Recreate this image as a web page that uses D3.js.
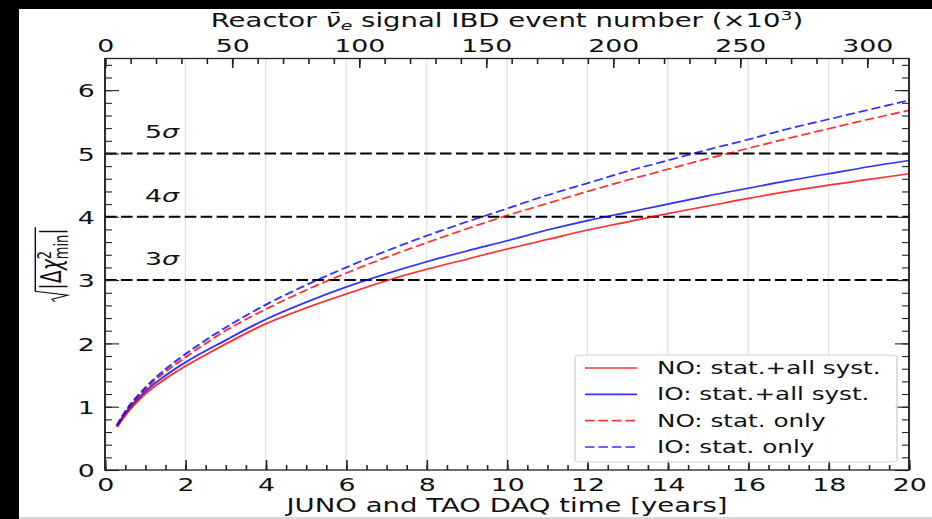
<!DOCTYPE html>
<html><head><meta charset="utf-8">
<script src="https://cdn.jsdelivr.net/npm/d3@7"></script>
<style>
body{margin:0;background:#000;}
svg{display:block;}
text{font-family:"DejaVu Sans",sans-serif;fill:#111;}
</style>
</head><body>
<svg id="c" width="932" height="519"></svg>
<script>
// ---- data ----
const years  = [0.3,0.5,1,1.5,2,3,4,5,6,7,8,9,10,11,12,13,14,15,16,17,18,19,20];
const noSyst = [0.68,0.86,1.20,1.44,1.64,1.99,2.31,2.56,2.78,2.99,3.17,3.33,3.49,3.64,3.79,3.92,4.05,4.17,4.29,4.40,4.50,4.59,4.68];
const ioSyst = [0.70,0.89,1.24,1.49,1.70,2.05,2.38,2.65,2.89,3.10,3.29,3.46,3.62,3.79,3.94,4.07,4.20,4.33,4.45,4.57,4.68,4.79,4.89];
const noStat = [0.69,0.90,1.27,1.55,1.78,2.20,2.54,2.84,3.11,3.36,3.59,3.81,4.02,4.21,4.40,4.58,4.75,4.92,5.08,5.24,5.39,5.54,5.68];
const ioStat = [0.71,0.92,1.30,1.59,1.83,2.25,2.61,2.92,3.20,3.46,3.70,3.92,4.13,4.34,4.53,4.72,4.89,5.06,5.22,5.39,5.54,5.69,5.84];
const seriesNames = ["NO: stat.+all syst.","IO: stat.+all syst.","NO: stat. only","IO: stat. only"];
const xTickVals = [0,2,4,6,8,10,12,14,16,18,20];
const yTickVals = [0,1,2,3,4,5,6];
const topTickVals = [0,50,100,150,200,250,300];
const sigmaLevels = [3,4,5];
const xDomain = [0,20];
const yDomain = [0,6.5];
const eventDomain = [0,316.5];

// ---- layout ----
const SX = 1.45;               // horizontal stretch of the reference
const L = 105/SX, R = 909/SX, T = 58.5, B = 470;
const svg = d3.select('#c');
svg.append('rect').attr('width',932).attr('height',519).attr('fill','#000');
svg.append('rect').attr('x',19).attr('y',9).attr('width',913).attr('height',508).attr('fill','#fff');
svg.append('rect').attr('x',19).attr('y',517).attr('width',913).attr('height',2).attr('fill','#d8d8d8');
const g = svg.append('g').attr('transform',`scale(${SX},1)`);

const x = d3.scaleLinear(xDomain,[L,R]);
const y = d3.scaleLinear(yDomain,[B,T]);
const xTop = d3.scaleLinear(eventDomain,[L,R]);

// grid
g.append('g').selectAll('line').data(xTickVals.filter(v=>v>0&&v<20)).join('line')
  .attr('x1',d=>x(d)).attr('x2',d=>x(d)).attr('y1',B).attr('y2',T)
  .attr('stroke','#e4e4e4').attr('stroke-width',1);

// sigma lines
g.append('g').selectAll('line').data(sigmaLevels).join('line')
  .attr('x1',L).attr('x2',R).attr('y1',d=>y(d)).attr('y2',d=>y(d))
  .attr('stroke','#000').attr('stroke-width',2).attr('stroke-dasharray','8,3');
const sl = g.append('g').selectAll('text').data(sigmaLevels).join('text')
  .attr('x',100).attr('y',d=>y(d)-15).attr('font-size',18.5);
sl.append('tspan').text(d=>d);
sl.append('tspan').attr('font-style','italic').text('σ');

// curves
const series = [
  {v:noSyst,c:'rgba(255,0,0,0.8)',dash:null},
  {v:ioSyst,c:'rgba(0,0,255,0.8)',dash:null},
  {v:noStat,c:'rgba(255,0,0,0.8)',dash:'6.5,2.8'},
  {v:ioStat,c:'rgba(0,0,255,0.8)',dash:'6.5,2.8'}
];
const line = d3.line().x(d=>x(d[0])).y(d=>y(d[1])).curve(d3.curveMonotoneX);
g.append('g').selectAll('path').data(series).join('path')
  .attr('d',s=>line(years.map((t,i)=>[t,s.v[i]])))
  .attr('fill','none').attr('stroke',s=>s.c).attr('stroke-width',1.7)
  .attr('stroke-dasharray',s=>s.dash);

// axes
const tickCol = '#222';
function styleAxis(sel){
  sel.select('.domain').remove();
  sel.selectAll('line').attr('stroke',tickCol).attr('stroke-width',1.1);
  sel.selectAll('text').attr('font-family','DejaVu Sans').attr('font-size',18.5).attr('fill','#111');
}
const minorX = d3.range(0,20.001,0.5);
const minorY = d3.range(0,6.501,0.2);
const minorTop = d3.range(0,316,10);
g.append('g').attr('transform',`translate(0,${B})`)
  .call(d3.axisBottom(x).tickValues(minorX).tickSize(-5).tickFormat('')).call(styleAxis);
g.append('g').attr('transform',`translate(0,${B})`)
  .call(d3.axisBottom(x).tickValues(xTickVals).tickSize(-10).tickFormat(d3.format('d')))
  .call(styleAxis).call(s=>s.selectAll('text').attr('y',21).attr('dy',null));
g.append('g').attr('transform',`translate(${L},0)`)
  .call(d3.axisLeft(y).tickValues(minorY).tickSize(-4.8).tickFormat('')).call(styleAxis);
g.append('g').attr('transform',`translate(${L},0)`)
  .call(d3.axisLeft(y).tickValues(yTickVals).tickSize(-9.7).tickPadding(7).tickFormat(d3.format('d')))
  .call(styleAxis).call(s=>s.selectAll('text').attr('dy','0.36em'));
g.append('g').attr('transform',`translate(${R},0)`)
  .call(d3.axisRight(y).tickValues(minorY).tickSize(-4.8).tickFormat('')).call(styleAxis);
g.append('g').attr('transform',`translate(${R},0)`)
  .call(d3.axisRight(y).tickValues(yTickVals).tickSize(-9.7).tickFormat('')).call(styleAxis);
g.append('g').attr('transform',`translate(0,${T})`)
  .call(d3.axisTop(xTop).tickValues(minorTop).tickSize(-5.5).tickFormat('')).call(styleAxis);
g.append('g').attr('transform',`translate(0,${T})`)
  .call(d3.axisTop(xTop).tickValues(topTickVals).tickSize(-9.5).tickFormat(d3.format('d')))
  .call(styleAxis).call(s=>s.selectAll('text').attr('y',-7).attr('dy',null));

// frame
g.append('rect').attr('x',L).attr('y',T).attr('width',R-L).attr('height',B-T)
  .attr('fill','none').attr('stroke',tickCol).attr('stroke-width',1.3);

// legend
const lg = g.append('g');
lg.append('rect').attr('x',575/SX).attr('y',355).attr('width',(897-575)/SX).attr('height',107)
  .attr('rx',3).attr('fill','rgba(255,255,255,0.85)').attr('stroke','#d4d4d4').attr('stroke-width',1);
const rowsY = [368,394.3,420.6,447];
const le = lg.selectAll('g.e').data(series).join('g').attr('class','e');
le.append('line').attr('x1',585/SX).attr('x2',637/SX).attr('y1',(d,i)=>rowsY[i]).attr('y2',(d,i)=>rowsY[i])
  .attr('stroke',d=>d.c).attr('stroke-width',1.7).attr('stroke-dasharray',d=>d.dash);
le.append('text').attr('x',657/SX).attr('y',(d,i)=>rowsY[i]+6).attr('font-size',17)
  .text((d,i)=>seriesNames[i]);

// x label
g.append('text').attr('x',507/SX).attr('y',512).attr('text-anchor','middle').attr('font-size',19)
  .text('JUNO and TAO DAQ time [years]');

// top label
const tt = g.append('text').attr('x',507/SX).attr('y',27).attr('text-anchor','middle').attr('font-size',19);
tt.append('tspan').text('Reactor ');
tt.append('tspan').attr('font-style','italic').text('ν\u0304');
tt.append('tspan').attr('font-style','italic').attr('font-size',13).attr('dy',3.5).text('e');
tt.append('tspan').attr('dy',-3.5).text(' signal IBD event number (×10');
tt.append('tspan').attr('font-size',13).attr('dy',-7).text('3');
tt.append('tspan').attr('dy',7).text(')');

// y label
const yl = g.append('g').attr('transform',`translate(${52/SX+6},265) rotate(-90)`);
const yt = yl.append('text').attr('font-size',19).attr('x',0).attr('y',0);
yt.append('tspan').text('|Δ');
yt.append('tspan').attr('font-style','italic').text('χ');
yt.append('tspan').attr('font-size',13).attr('dy',-7).text('2');
yt.append('tspan').attr('font-size',13).attr('dx',-8.3).attr('dy',12).text('min');
yt.append('tspan').attr('dy',-5).text('|');
const bb = yt.node().getBBox();
const radW = 12;
const total = radW + bb.width;
const off = -total/2;
yt.attr('x',off+radW);
yl.append('path')
  .attr('d',`M${off},-4 L${off+2.5},-6 L${off+6.5},5 L${off+10.5},-17.5 L${off+radW+bb.width+1},-17.5`)
  .attr('fill','none').attr('stroke','#111').attr('stroke-width',1);
</script>
</body></html>
